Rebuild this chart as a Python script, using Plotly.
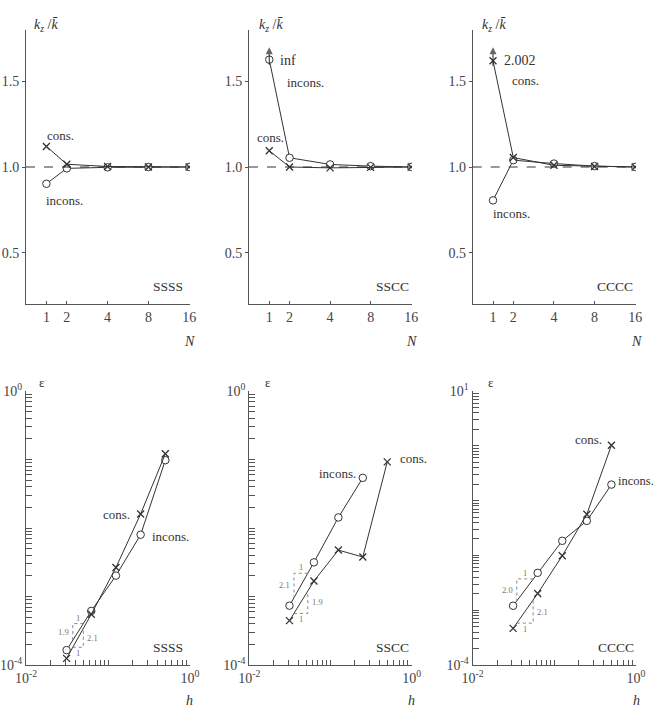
import numpy as np
import plotly.graph_objects as go

W, H = 653, 707
FONT = "Liberation Serif"
INK = "#333333"
AXC = "#555555"

# ---------------- data ----------------
N_labels = ["1", "2", "4", "8", "16"]
N_slot = [0.5, 1, 2, 3, 4]          # category slots on the N axis

ssss_cons_k = [1.12, 1.016, 1.003, 1.0, 1.0]
ssss_incons_k = [0.902, 0.992, 0.998, 1.0, 1.0]
sscc_cons_k = [1.095, 1.0, 0.995, 0.998, 1.0]
sscc_incons_k = [1.627, 1.054, 1.015, 1.005, 1.0]
cccc_cons_k = [1.62, 1.055, 1.01, 1.003, 1.0]
cccc_incons_k = [0.805, 1.04, 1.02, 1.005, 1.0]
arrow_top_k = 1.70                  # arrow tip for off-scale values (inf, 2.002)

h_vals = [0.5, 0.25, 0.125, 0.0625, 0.03125]
ssss_cons_e = [0.121, 0.0160, 0.00265, 0.00055, 0.000125]
ssss_incons_e = [0.0977, 0.00798, 0.00202, 0.000615, 0.000165]
sscc_cons_e = [0.0923, 0.00377, 0.00476, 0.00168, 0.000444]
sscc_incons_e = [None, 0.054, 0.01426, 0.00315, 0.000735]
cccc_cons_e = [1.023, 0.0565, 0.00984, 0.00202, 0.000466]
cccc_incons_e = [0.196, 0.0427, 0.01845, 0.00481, 0.001205]

# slope triangles: h-span, and labels (upper-left on first series, lower-right on second)
tri_h = {4: (0.0372, 0.0500), 5: (0.0355, 0.0525), 6: (0.0347, 0.0550)}
tri_upper = {4: ("incons", "1.9"), 5: ("incons", "2.1"), 6: ("incons", "2.0")}
tri_lower = {4: ("cons", "2.1"), 5: ("cons", "1.9"), 6: ("cons", "2.1")}

# ---------------- layout geometry (pixels) ----------------
top_x = [(26, 190), (249, 412), (472.7, 636)]
bot_x = [(26, 190), (249.3, 411.7), (472.7, 636)]
top_y = (30, 304)
bot_y = (391, 665)


def dx(a, b):
    return [a / W, b / W]


def dy(a, b):
    return [1 - b / H, 1 - a / H]


fig = go.Figure()

line_style = dict(color=INK, width=1)
circ = dict(symbol="circle", size=7.5, color="white", line=dict(color=INK, width=1))
cross = dict(symbol="x-thin-open", size=7, color=INK, line=dict(color=INK, width=1.3))

top_sets = [
    (ssss_cons_k, ssss_incons_k),
    (sscc_cons_k, sscc_incons_k),
    (cccc_cons_k, cccc_incons_k),
]
for i, (ck, ik) in enumerate(top_sets):
    ax = "" if i == 0 else str(i + 1)
    fig.add_trace(go.Scatter(x=N_slot, y=ik, mode="lines+markers", line=line_style,
                             marker=circ, xaxis="x" + ax, yaxis="y" + ax, showlegend=False))
    fig.add_trace(go.Scatter(x=N_slot, y=ck, mode="lines+markers", line=line_style,
                             marker=cross, xaxis="x" + ax, yaxis="y" + ax, showlegend=False))

# off-scale arrows (SSCC incons -> inf, CCCC cons -> 2.002)
for ax, base in (("2", sscc_incons_k[0]), ("3", cccc_cons_k[0])):
    fig.add_trace(go.Scatter(x=[N_slot[0], N_slot[0]], y=[base - 0.03, arrow_top_k], mode="lines+markers",
                             line=dict(color="#222", width=1),
                             marker=dict(symbol="arrow-up", size=[0, 7], color="#222", line=dict(width=0)),
                             xaxis="x" + ax, yaxis="y" + ax, showlegend=False, hoverinfo="skip"))

bot_sets = {
    4: {"cons": ssss_cons_e, "incons": ssss_incons_e},
    5: {"cons": sscc_cons_e, "incons": sscc_incons_e},
    6: {"cons": cccc_cons_e, "incons": cccc_incons_e},
}
for k, s in bot_sets.items():
    fig.add_trace(go.Scatter(x=h_vals, y=s["incons"], mode="lines+markers", line=line_style,
                             marker=circ, xaxis="x%d" % k, yaxis="y%d" % k, showlegend=False,
                             connectgaps=False))
    fig.add_trace(go.Scatter(x=h_vals, y=s["cons"], mode="lines+markers", line=line_style,
                             marker=cross, xaxis="x%d" % k, yaxis="y%d" % k, showlegend=False))

annotations = []


def f_log(series, lx):
    xs = [np.log10(h) for h, e in zip(h_vals, series) if e is not None][::-1]
    ys = [np.log10(e) for h, e in zip(h_vals, series) if e is not None][::-1]
    return float(np.interp(lx, xs, ys))


tri_style = dict(color="#888888", width=1, dash="dot")
tri_font = dict(size=8.5, color="#777", family=FONT)
for k in (4, 5, 6):
    lx0, lx1 = np.log10(tri_h[k][0]), np.log10(tri_h[k][1])
    # upper-left triangle
    sname, lab = tri_upper[k]
    ser = bot_sets[k][sname]
    a0, a1 = f_log(ser, lx0), f_log(ser, lx1)
    fig.add_trace(go.Scatter(x=[10 ** lx1, 10 ** lx0, 10 ** lx0], y=[10 ** a1, 10 ** a1, 10 ** a0],
                             mode="lines", line=tri_style, xaxis="x%d" % k, yaxis="y%d" % k,
                             showlegend=False, hoverinfo="skip"))
    annotations.append(dict(text="1", x=(lx0 + lx1) / 2, y=a1, xref="x%d" % k, yref="y%d" % k,
                            yshift=6, showarrow=False, font=tri_font))
    annotations.append(dict(text=lab, x=lx0, y=(a0 + a1) / 2, xref="x%d" % k, yref="y%d" % k,
                            xshift=-2, xanchor="right", showarrow=False, font=tri_font))
    # lower-right triangle
    sname, lab = tri_lower[k]
    ser = bot_sets[k][sname]
    b0, b1 = f_log(ser, lx0), f_log(ser, lx1)
    fig.add_trace(go.Scatter(x=[10 ** lx0, 10 ** lx1, 10 ** lx1], y=[10 ** b0, 10 ** b0, 10 ** b1],
                             mode="lines", line=tri_style, xaxis="x%d" % k, yaxis="y%d" % k,
                             showlegend=False, hoverinfo="skip"))
    annotations.append(dict(text="1", x=(lx0 + lx1) / 2, y=b0, xref="x%d" % k, yref="y%d" % k,
                            yshift=-6, showarrow=False, font=tri_font))
    annotations.append(dict(text=lab, x=lx1, y=(b0 + b1) / 2, xref="x%d" % k, yref="y%d" % k,
                            xshift=2, xanchor="left", showarrow=False, font=tri_font))


def txt(text, x, y, size=13, xanchor="center", yanchor="middle", color=INK):
    annotations.append(dict(text=text, x=x / W, y=1 - y / H, xref="paper", yref="paper",
                            xanchor=xanchor, yanchor=yanchor, showarrow=False,
                            font=dict(size=size, color=color, family=FONT)))


# axis titles
klabel = "<i>k<sub>z</sub></i> /<i>k\u0304</i>"
for x0 in (32, 256.7, 480):
    txt(klabel, x0, 25, size=14, xanchor="left")
for x1 in (189, 411, 636):
    txt("<i>N</i>", x1, 341, size=14)
    txt("<i>h</i>", x1, 700, size=14)
for x0 in (37, 262.7, 486):
    txt("\u03b5", x0, 382, size=13, xanchor="left")

# panel tags
txt("SSSS", 185, 286, size=13.5, xanchor="right")
txt("SSCC", 410.7, 286, size=13.5, xanchor="right")
txt("CCCC", 635, 286, size=13.5, xanchor="right")
txt("SSSS", 185, 647, size=13.5, xanchor="right")
txt("SSCC", 411, 647, size=13.5, xanchor="right")
txt("CCCC", 635.5, 647, size=13.5, xanchor="right")

# series labels (top)
txt("cons.", 45, 135, xanchor="left")
txt("incons.", 44, 200, xanchor="left")
txt("inf", 278, 61, size=14, xanchor="left")
txt("incons.", 285, 82, xanchor="left")
txt("cons.", 255, 138, xanchor="left")
txt("2.002", 502, 60, size=14, xanchor="left")
txt("cons.", 510, 81, xanchor="left")
txt("incons.", 491, 213, xanchor="left")
# series labels (bottom)
txt("cons.", 132, 514, xanchor="right")
txt("incons.", 150, 536, xanchor="left")
txt("incons.", 316.7, 473, xanchor="left")
txt("cons.", 398, 458, xanchor="left")
txt("cons.", 604, 439, xanchor="right")
txt("incons.", 616, 481, size=12.5, xanchor="left")

shapes = []
for i in range(3):
    ax = "" if i == 0 else str(i + 1)
    shapes.append(dict(type="line", xref="x%s domain" % ax, yref="y" + ax, x0=0, x1=1, y0=1, y1=1,
                       line=dict(color=INK, width=1, dash="dash")))

tickfont = dict(family=FONT, size=14, color="#444")
layout = dict(width=W, height=H, margin=dict(l=0, r=0, t=0, b=0, autoexpand=False), plot_bgcolor="white",
              paper_bgcolor="white", annotations=annotations, shapes=shapes,
              font=dict(family=FONT, color=INK))

for i in range(3):
    ax = "" if i == 0 else str(i + 1)
    layout["xaxis" + ax] = dict(domain=dx(*top_x[i]), range=[0, 4.02], tickvals=N_slot, ticktext=N_labels,
                                showline=True, linecolor=AXC, linewidth=1, ticks="inside", ticklen=3,
                                tickcolor=AXC, showgrid=False, zeroline=False, tickfont=tickfont,
                                anchor="y" + ax, fixedrange=True)
    layout["yaxis" + ax] = dict(domain=dy(*top_y), range=[0.2, 1.8], tickvals=[0.5, 1.0, 1.5],
                                ticktext=["0.5", "1.0", "1.5"], showline=True, linecolor=AXC, linewidth=1,
                                ticks="outside", ticklen=3, tickcolor=AXC, showgrid=False, zeroline=False,
                                tickfont=tickfont, anchor="x" + ax, fixedrange=True)

x_minor = [m * 10.0 ** d for d in (-2, -1) for m in range(2, 10)] + [0.1]
for j, k in enumerate((4, 5, 6)):
    ytop = 1 if k == 6 else 0
    decades = list(range(-4, ytop + 1))
    ymin = [m * 10.0 ** d for d in decades[:-1] for m in range(2, 10)] + [10.0 ** d for d in decades[1:-1]]
    layout["xaxis%d" % k] = dict(domain=dx(*bot_x[j]), type="log", range=[-2, 0], tickvals=[0.01, 1],
                                 ticktext=["10<sup>-2</sup>", "10<sup>0</sup>"], showline=True,
                                 linecolor=AXC, linewidth=1.3, ticks="inside", ticklen=6, tickcolor=AXC,
                                 minor=dict(tickvals=x_minor, ticks="inside", ticklen=5, tickcolor=AXC),
                                 showgrid=False, zeroline=False, tickfont=tickfont, anchor="y%d" % k,
                                 fixedrange=True)
    layout["yaxis%d" % k] = dict(domain=dy(*bot_y), type="log", range=[-4, ytop],
                                 tickvals=[1e-4, 10.0 ** ytop],
                                 ticktext=["10<sup>-4</sup>", "10<sup>%d</sup>" % ytop], showline=True,
                                 linecolor=AXC, linewidth=1.3, ticks="inside", ticklen=7, tickcolor=AXC,
                                 minor=dict(tickvals=ymin, ticks="inside", ticklen=6, tickcolor=AXC),
                                 showgrid=False, zeroline=False, tickfont=tickfont, anchor="x%d" % k,
                                 fixedrange=True)

fig.update_layout(**layout)
fig.write_html("out.html", config={"displayModeBar": False},
               post_script="document.body.style.margin='0';document.documentElement.style.overflow='hidden';")
